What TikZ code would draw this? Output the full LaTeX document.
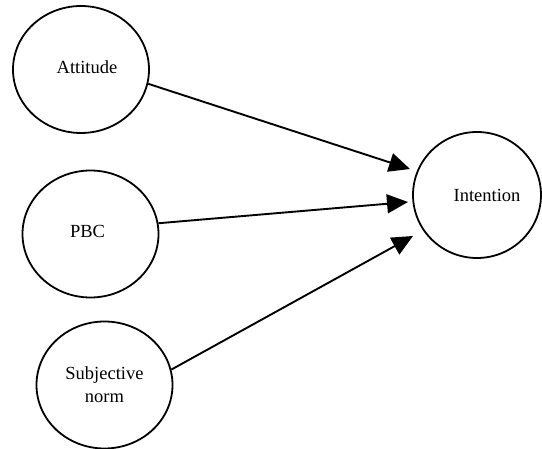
\documentclass[tikz,border=0pt]{standalone}
\usepackage{fontspec}
\setmainfont{Liberation Serif}
\usetikzlibrary{shapes.geometric,arrows.meta}
\begin{document}
\begin{tikzpicture}[x=1pt,y=-1pt,
  construct/.style={ellipse,draw,line width=1.8pt,minimum width=136pt,minimum height=127pt,inner sep=0pt},
  lbl/.style={font=\fontsize{18.5}{23}\selectfont,align=center},
  link/.style={line width=1.9pt,-{Triangle[length=21pt,width=19pt]}}]
\useasboundingbox (0,0) rectangle (542,449);
\node[construct,label={[lbl,xshift=6pt,yshift=2pt]center:Attitude}] (att) at (81,69.5) {};
\node[construct,label={[lbl,xshift=-3pt,yshift=3pt]center:PBC}] (pbc) at (90.5,234) {};
\node[construct,label={[lbl]center:Subjective\\norm}] (sn) at (104.5,385) {};
\node[construct,minimum width=128pt,minimum height=126pt,label={[lbl,xshift=10pt]center:Intention}] (int) at (477,195) {};
\coordinate (t1) at (410,169);
\coordinate (t2) at (408,202);
\coordinate (t3) at (413,236);
\draw[link] (att.-12) -- (t1);
\draw[link] (pbc.9) -- (t2);
\draw[link] (sn.13) -- (t3);
\end{tikzpicture}
\end{document}
